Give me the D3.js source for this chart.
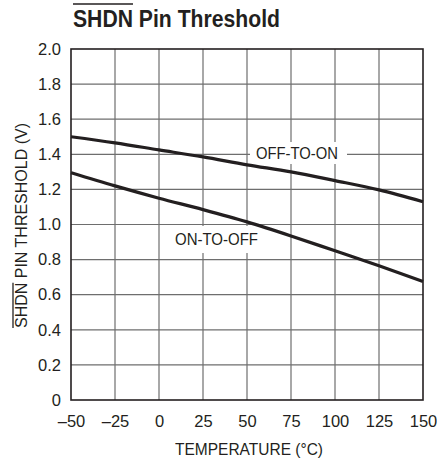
<!DOCTYPE html>
<html>
<head>
<meta charset="utf-8">
<script src="https://cdn.jsdelivr.net/npm/d3@7"></script>
<style>
  html, body { margin: 0; padding: 0; background: #fff; }
  svg { display: block; }
  text { font-family: "Liberation Sans", Arial, Helvetica, sans-serif; fill: #231f20; }
</style>
</head>
<body>
<svg id="chart" width="437" height="462"></svg>
<script>
// ---- data ----
const temperatures = [-50, -25, 0, 25, 50, 75, 100, 125, 150];
const offToOn = [1.50, 1.465, 1.425, 1.385, 1.34, 1.30, 1.25, 1.197, 1.13];
const onToOff = [1.295, 1.22, 1.15, 1.085, 1.015, 0.935, 0.85, 0.765, 0.675];
const xTicks = [-50, -25, 0, 25, 50, 75, 100, 125, 150];
const yTicks = [0, 0.2, 0.4, 0.6, 0.8, 1.0, 1.2, 1.4, 1.6, 1.8, 2.0];
const titleText = "SHDN Pin Threshold";
const xTitle = "TEMPERATURE (°C)";
const yTitle = "SHDN PIN THRESHOLD (V)";
const curveLabels = ["OFF-TO-ON", "ON-TO-OFF"];

// ---- layout ----
const W = 437, H = 462;
const plot = { left: 71, right: 423, top: 49, bottom: 400 };
const ink = "#231f20";

const svg = d3.select("#chart");
svg.append("rect").attr("width", W).attr("height", H).attr("fill", "#fff");

const x = d3.scaleLinear().domain([-50, 150]).range([plot.left, plot.right]);
const y = d3.scaleLinear().domain([0, 2]).range([plot.bottom, plot.top]);

// grid
const grid = svg.append("g");
grid.selectAll("line.v").data(xTicks.slice(1, -1)).join("line")
  .attr("x1", d => x(d)).attr("x2", d => x(d))
  .attr("y1", plot.top).attr("y2", plot.bottom)
  .attr("stroke", "#6e6e6e").attr("stroke-width", 1.2);
grid.selectAll("line.h").data(yTicks.slice(1, -1)).join("line")
  .attr("y1", d => y(d)).attr("y2", d => y(d))
  .attr("x1", plot.left).attr("x2", plot.right)
  .attr("stroke", "#6e6e6e").attr("stroke-width", 1.2);

// axes (labels only, via d3 axis)
const fmtX = d => d < 0 ? "\u2013" + Math.abs(d) : String(d);
const fmtY = d => d === 0 ? "0" : d3.format(".1f")(d);

const xAxis = svg.append("g")
  .attr("transform", `translate(0,${plot.bottom})`)
  .call(d3.axisBottom(x).tickValues(xTicks).tickFormat(fmtX).tickSize(0).tickPadding(15));
xAxis.select(".domain").remove();
xAxis.selectAll("text").attr("font-size", 16.5).attr("fill", ink)
  .style("font-family", '"Liberation Sans", Arial, sans-serif');

const yAxis = svg.append("g")
  .attr("transform", `translate(${plot.left},0)`)
  .call(d3.axisLeft(y).tickValues(yTicks).tickFormat(fmtY).tickSize(0).tickPadding(10));
yAxis.select(".domain").remove();
yAxis.selectAll("text").attr("font-size", 16.5).attr("fill", ink)
  .style("font-family", '"Liberation Sans", Arial, sans-serif');

// label knockouts + labels
const labelSpecs = [
  { text: curveLabels[0], cx: 297, cy: 153, len: 82, box: [250, 142, 97, 22] },
  { text: curveLabels[1], cx: 216.5, cy: 239, len: 83, box: [170, 226, 93, 27] }
];
labelSpecs.forEach(s => {
  svg.append("rect").attr("x", s.box[0]).attr("y", s.box[1])
    .attr("width", s.box[2]).attr("height", s.box[3]).attr("fill", "#fff");
});

// border
svg.append("rect")
  .attr("x", plot.left).attr("y", plot.top)
  .attr("width", plot.right - plot.left).attr("height", plot.bottom - plot.top)
  .attr("fill", "none").attr("stroke", ink).attr("stroke-width", 1.6);

// curves
const line = d3.line().x(d => x(d[0])).y(d => y(d[1])).curve(d3.curveMonotoneX);
[offToOn, onToOff].forEach(series => {
  svg.append("path")
    .datum(temperatures.map((t, i) => [t, series[i]]))
    .attr("d", line)
    .attr("fill", "none").attr("stroke", ink).attr("stroke-width", 3.2)
    .attr("stroke-linejoin", "round");
});

labelSpecs.forEach(s => {
  svg.append("text").attr("x", s.cx).attr("y", s.cy)
    .attr("text-anchor", "middle").attr("dominant-baseline", "central")
    .attr("font-size", 16.5)
    .attr("textLength", s.len).attr("lengthAdjust", "spacingAndGlyphs")
    .text(s.text);
});

// helper: text with overline over first n chars
function overlined(textSel, n, targetLen, overOffset) {
  const node = textSel.node();
  const full = node.getComputedTextLength();
  const sub = node.getSubStringLength(0, n);
  textSel.attr("textLength", targetLen).attr("lengthAdjust", "spacingAndGlyphs");
  return sub * targetLen / full;
}

// title
const title = svg.append("text")
  .attr("x", 73).attr("y", 27)
  .attr("font-size", 24).attr("font-weight", "bold")
  .text(titleText);
const tSub = overlined(title, 4, 207);
svg.append("line").attr("x1", 73).attr("x2", 73 + tSub)
  .attr("y1", 4).attr("y2", 4).attr("stroke", ink).attr("stroke-width", 1.6);

// x title
svg.append("text")
  .attr("x", 249).attr("y", 455)
  .attr("text-anchor", "middle").attr("font-size", 16.5)
  .attr("textLength", 148).attr("lengthAdjust", "spacingAndGlyphs")
  .text(xTitle);

// y title (rotated)
const yT = svg.append("g").attr("transform", "translate(27,225.5) rotate(-90)");
const yText = yT.append("text")
  .attr("x", -102.5).attr("y", 0)
  .attr("font-size", 16.5)
  .text(yTitle);
const ySub = overlined(yText, 4, 205);
yT.append("line").attr("x1", -102.5).attr("x2", -102.5 + ySub)
  .attr("y1", -14).attr("y2", -14).attr("stroke", ink).attr("stroke-width", 1.3);
</script>
</body>
</html>
